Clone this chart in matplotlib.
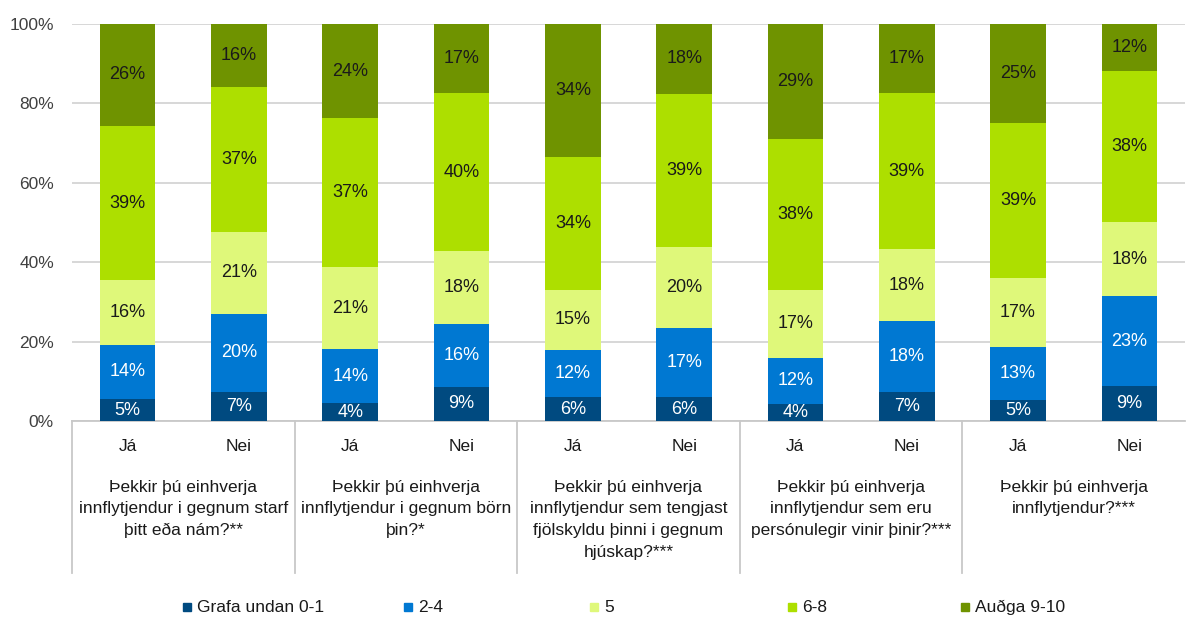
import matplotlib.pyplot as plt
from matplotlib.patches import Rectangle
import numpy as np

plt.rcParams['font.family'] = ['Liberation Sans', 'DejaVu Sans']

answers = ["Já", "Nei"] * 5
questions = [
    "Þekkir þú einhverja\ninnflytjendur i gegnum starf\nþitt eða nám?**",
    "Þekkir þú einhverja\ninnflytjendur i gegnum börn\nþin?*",
    "Þekkir þú einhverja\ninnflytjendur sem tengjast\nfjölskyldu þinni i gegnum\nhjúskap?***",
    "Þekkir þú einhverja\ninnflytjendur sem eru\npersónulegir vinir þinir?***",
    "Þekkir þú einhverja\ninnflytjendur?***",
]
series = ["Grafa undan 0-1", "2-4", "5", "6-8", "Auðga 9-10"]

# shares in percent, one list per series, one value per bar
grafa = [5.5, 7.3, 4.5, 8.6, 6.0, 6.0, 4.3, 7.3, 5.3, 8.8]
s24 = [13.7, 19.7, 13.6, 15.8, 11.9, 17.4, 11.6, 17.9, 13.3, 22.7]
s5 = [16.2, 20.6, 20.7, 18.4, 15.1, 20.4, 17.1, 18.1, 17.4, 18.6]
s68 = [39.0, 36.5, 37.5, 39.8, 33.5, 38.6, 38.0, 39.3, 39.1, 38.1]
audga = [25.7, 15.9, 23.7, 17.4, 33.5, 17.6, 29.0, 17.4, 24.9, 11.8]
labels = [
    [5, 7, 4, 9, 6, 6, 4, 7, 5, 9],
    [14, 20, 14, 16, 12, 17, 12, 18, 13, 23],
    [16, 21, 21, 18, 15, 20, 17, 18, 17, 18],
    [39, 37, 37, 40, 34, 39, 38, 39, 39, 38],
    [26, 16, 24, 17, 34, 18, 29, 17, 25, 12],
]

colors = ["#004a80", "#0078d2", "#dff87a", "#addf00", "#6f9300"]
text_colors = ["white", "white", "#1a1a1a", "#1a1a1a", "#1a1a1a"]

fig = plt.figure(figsize=(11.9, 6.19), dpi=100)
ax = fig.add_axes([72 / 1190, 1 - 421 / 619, 1113 / 1190, 397 / 619])

x = np.arange(len(answers))
bottom = np.zeros(len(answers))
for vals, lab, c, tc in zip([grafa, s24, s5, s68, audga], labels, colors, text_colors):
    vals = np.array(vals)
    ax.bar(x, vals, 0.5, bottom=bottom, color=c, zorder=3)
    for xi, b, v, l in zip(x, bottom, vals, lab):
        ax.text(xi, b + v / 2, f"{l}%", ha="center", va="center", color=tc, fontsize=13, zorder=4)
    bottom += vals

ax.set_xlim(-0.5, len(answers) - 0.5)
ax.set_ylim(0, 100)
ax.set_yticks(range(0, 101, 20))
ax.set_yticklabels([f"{t}%" for t in range(0, 101, 20)], fontsize=12.5, color="#404040")
ax.tick_params(axis="y", length=0, pad=13)
ax.set_xticks([])
ax.grid(axis="y", color="#d4d4d4", linewidth=1.3, zorder=0)
for s in ["top", "right", "left"]:
    ax.spines[s].set_visible(False)
ax.spines["bottom"].set_color("#c8c8c8")
ax.spines["bottom"].set_linewidth(1.3)

trans = ax.get_xaxis_transform()
for xi, a in zip(x, answers):
    ax.text(xi, -0.063, a, transform=trans, ha="center", va="center", fontsize=12.5, color="#1a1a1a")
for g, q in enumerate(questions):
    ax.text(2 * g + 0.5, -0.148, q, transform=trans, ha="center", va="top", fontsize=12.5,
            color="#1a1a1a", linespacing=1.55)
for g in range(len(questions)):
    ax.plot([2 * g - 0.5, 2 * g - 0.5], [0, -0.383], transform=trans, color="#c8c8c8",
            linewidth=1.3, clip_on=False)

# legend drawn by hand to follow the reference spacing
leg_x = [183, 404, 590, 788, 961]
for lx, name, c in zip(leg_x, series, colors):
    fig.add_artist(Rectangle((lx / 1190, 1 - 611 / 619), 8 / 1190, 8 / 619,
                             transform=fig.transFigure, color=c))
    fig.text((lx + 14) / 1190, 1 - 607 / 619, name, ha="left", va="center",
             fontsize=12.5, color="#1a1a1a")

fig.savefig("out.png", dpi=100)
